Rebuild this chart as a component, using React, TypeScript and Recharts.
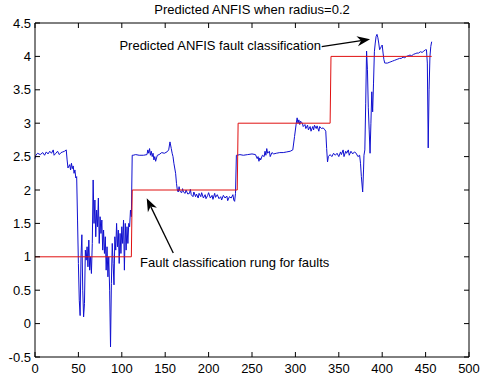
import React from 'react';
import { LineChart, Line, XAxis, YAxis, ReferenceLine, ReferenceDot } from 'recharts';

// ANFIS output (sample index -> predicted class)
const predX = [
  0, 1, 3, 6, 9, 11, 13, 15, 17, 19, 21, 22, 24, 26, 28, 30, 32, 34, 36, 37, 38, 40, 41, 42, 43, 44, 45, 46, 47, 48,
  49, 50, 51, 52, 53, 54, 55, 56, 57, 58, 59, 60, 61, 62, 63, 64, 65, 66, 67, 68, 69, 70, 71, 72, 73, 74, 75, 76, 77, 78,
  79, 80, 81, 82, 83, 84, 85, 86, 87, 88, 89, 90, 91, 92, 93, 94, 95, 96, 97, 98, 99, 100, 101, 102, 103, 104, 105, 106, 107, 108,
  109, 110, 111, 112, 113, 116, 120, 125, 129, 130, 131, 132, 133, 134, 135, 136, 137, 138, 139, 140, 141, 143, 146, 149, 152, 154, 155.5, 157, 158, 159,
  160, 162, 163, 164, 165, 166, 167, 169, 170, 171, 173, 174, 176, 178, 179, 180, 182, 183, 185, 186, 188, 189, 191, 192, 194, 196, 197, 199, 200, 202,
  204, 205, 207, 208, 210, 212, 214, 215, 217, 219, 221, 222, 224, 226, 228, 229, 230, 231, 232, 233, 236, 240, 245, 250, 254, 256, 257, 258, 259, 260,
  262, 264, 265, 266, 267, 268, 270, 271, 273, 275, 278, 282, 286, 290, 294, 297, 299, 301, 302, 303, 304, 305, 306, 308, 309, 311, 312, 314, 315, 317,
  318, 320, 321, 322, 324, 325, 327, 328, 330, 332, 334, 335, 336, 337, 338, 340, 342, 344, 346, 348, 350, 352, 353, 355, 356, 358, 359, 361, 362, 364,
  366, 368, 370, 372, 374, 375, 376, 377.5, 378.5, 379, 380, 381, 382, 383, 384, 385, 386, 387, 388, 389, 390, 391, 392, 393, 394, 395, 396, 397, 398, 399,
  400, 401, 402, 403, 404, 406, 408, 410, 412, 414, 416, 418, 420, 422, 424, 426, 428, 430, 432, 434, 436, 438, 440, 442, 444, 446, 448, 450, 451, 452,
  453, 454, 455, 456, 457,
];
const predY = [
  2.47, 2.52, 2.55, 2.53, 2.56, 2.52, 2.57, 2.54, 2.58, 2.55, 2.6, 2.52, 2.55, 2.58, 2.53, 2.56, 2.57, 2.58, 2.6, 2.45, 2.33, 2.38, 2.3, 2.4, 2.32, 2.36, 2.25, 2.3, 2.18, 2.2,
  1.55, 0.9, 0.35, 0.12, 1.0, 1.33, 0.5, 0.1, 0.3, 1.1, 0.95, 1.15, 0.85, 1.25, 0.8, 1.0, 0.75, 1.2, 2.15, 1.5, 1.85, 1.3, 1.7, 1.45, 1.88, 1.2, 1.6, 1.35, 1.55, 1.1,
  1.4, 1.05, 1.3, 0.8, 1.15, 0.7, 1.0, 0.5, -0.35, 0.6, 1.2, 0.9, 0.58, 1.3, 1.1, 1.5, 1.15, 1.4, 0.9, 1.35, 1.05, 1.45, 1.2, 1.55, 0.8, 1.5, 1.1, 1.45, 1.2, 1.5,
  1.45, 1.7, 1.6, 2.52, 2.52, 2.53, 2.52, 2.52, 2.53, 2.6, 2.55, 2.62, 2.52, 2.58, 2.5, 2.55, 2.45, 2.5, 2.43, 2.48, 2.52, 2.53, 2.56, 2.55, 2.57, 2.6, 2.72, 2.62, 2.55, 2.5,
  2.4, 2.25, 2.1, 2.0, 1.97, 2.05, 1.98, 1.96, 2.02, 1.97, 1.95, 2.0, 1.94, 1.95, 2.01, 1.93, 1.9, 1.97, 1.9, 1.94, 1.88, 1.95, 1.9, 1.96, 1.88, 1.93, 1.87, 1.92, 1.96, 1.88,
  1.92, 1.86, 1.95, 1.89, 1.93, 1.87, 1.9, 1.85, 1.92, 1.88, 1.91, 1.84, 1.9, 1.88, 1.93, 1.85, 1.83, 1.95, 2.52, 2.52, 2.53, 2.52, 2.53, 2.54, 2.53, 2.47, 2.5, 2.43, 2.48, 2.45,
  2.52, 2.5, 2.58, 2.52, 2.62, 2.55, 2.58, 2.5, 2.56, 2.54, 2.55, 2.56, 2.56, 2.57, 2.58, 2.6, 2.8, 3.0, 3.08, 3.0, 3.05, 2.98, 3.03, 3.0, 2.95, 2.98, 2.92, 2.97, 2.9, 2.95,
  2.88, 2.95, 2.9, 2.97, 2.92, 2.96, 2.88, 2.95, 2.92, 2.93, 2.9, 2.88, 2.62, 2.42, 2.5, 2.53, 2.5, 2.55, 2.52, 2.55, 2.5, 2.57, 2.53, 2.6, 2.5, 2.58, 2.55, 2.6, 2.52, 2.58,
  2.54, 2.57, 2.55, 2.5, 2.52, 2.4, 2.2, 1.97, 2.3, 2.52, 2.6, 3.3, 4.08, 3.8, 3.23, 2.9, 2.55, 3.0, 3.47, 3.17, 3.6, 4.07, 4.2, 4.3, 4.33, 4.28, 4.2, 4.1, 4.12, 4.15,
  4.17, 4.05, 3.95, 3.9, 3.9, 3.9, 3.91, 3.92, 3.93, 3.94, 3.95, 3.96, 3.97, 3.97, 3.99, 3.98, 4.0, 4.01, 4.02, 4.01, 4.03, 4.04, 4.05, 4.05, 4.07, 4.06, 4.08, 4.1, 4.1, 3.9,
  2.63, 3.5, 4.0, 4.15, 4.22,
];

// target class per sample (fault classification rung)
const rungX = [0, 111, 112, 233, 234, 340, 341, 457];
const rungY = [1, 1, 2, 2, 3, 3, 4, 4];

const xTicks = [0, 50, 100, 150, 200, 250, 300, 350, 400, 450, 500];
const yTicks = [-0.5, 0, 0.5, 1, 1.5, 2, 2.5, 3, 3.5, 4, 4.5];

const predData = predX.map((x, i) => ({ x, y: predY[i] }));
const rungData = rungX.map((x, i) => ({ x, y: rungY[i] }));

const FONT = '"Liberation Sans", Arial, sans-serif';
const blank = () => '';

const Arrow = (props: any) => {
  const { x1, y1, x2, y2 } = props;
  const ang = Math.atan2(y2 - y1, x2 - x1);
  const len = 13;
  const half = 5;
  const bx = x2 - len * Math.cos(ang);
  const by = y2 - len * Math.sin(ang);
  const nx = x2 - (len - 4) * Math.cos(ang);
  const ny = y2 - (len - 4) * Math.sin(ang);
  const px = -Math.sin(ang) * half;
  const py = Math.cos(ang) * half;
  return (
    <g>
      <line x1={x1} y1={y1} x2={nx} y2={ny} stroke="#000" strokeWidth={1.3} />
      <polygon
        points={`${x2},${y2} ${bx + px},${by + py} ${nx},${ny} ${bx - px},${by - py}`}
        fill="#000"
      />
    </g>
  );
};

const Note = (text: string, anchor: 'start' | 'end') => (props: any) => (
  <text
    x={props.cx}
    y={props.cy}
    textAnchor={anchor}
    dominantBaseline="central"
    fontFamily={FONT}
    fontSize={13}
    fill="#000"
  >
    {text}
  </text>
);

export default function App() {
  return (
    <div style={{ position: 'absolute', left: 0, top: 0, width: 480, height: 385, background: '#fff' }}>
      <div
        style={{
          position: 'absolute',
          left: 35,
          width: 434,
          top: 2,
          textAlign: 'center',
          fontFamily: FONT,
          fontSize: 13,
          lineHeight: '16px',
          color: '#000',
        }}
      >
        Predicted ANFIS when radius=0.2
      </div>
      <LineChart width={480} height={385} margin={{ top: 22, right: 10, bottom: 0, left: 0 }}>
        <XAxis
          dataKey="x"
          type="number"
          domain={[0, 500]}
          ticks={xTicks}
          interval={0}
          height={28}
          tickSize={-5}
          tickMargin={12}
          axisLine={{ stroke: '#000' }}
          tickLine={{ stroke: '#000' }}
          tick={{ fill: '#000', fontSize: 13, fontFamily: FONT }}
        />
        <XAxis
          xAxisId="top"
          orientation="top"
          dataKey="x"
          type="number"
          domain={[0, 500]}
          ticks={xTicks}
          interval={0}
          height={1}
          tickSize={-5}
          tickFormatter={blank}
          axisLine={{ stroke: '#000' }}
          tickLine={{ stroke: '#000' }}
        />
        <YAxis
          type="number"
          domain={[-0.5, 4.5]}
          ticks={yTicks}
          interval={0}
          width={35}
          tickSize={-5}
          tickMargin={9}
          axisLine={{ stroke: '#000' }}
          tickLine={{ stroke: '#000' }}
          tick={{ fill: '#000', fontSize: 13, fontFamily: FONT }}
        />
        <YAxis
          yAxisId="right"
          orientation="right"
          type="number"
          domain={[-0.5, 4.5]}
          ticks={yTicks}
          interval={0}
          width={1}
          tickSize={-5}
          tickFormatter={blank}
          axisLine={{ stroke: '#000' }}
          tickLine={{ stroke: '#000' }}
        />
        <Line
          data={predData}
          dataKey="y"
          type="linear"
          stroke="#1010d0"
          strokeWidth={1}
          dot={false}
          isAnimationActive={false}
        />
        <Line
          data={rungData}
          xAxisId="top"
          yAxisId="right"
          dataKey="y"
          type="linear"
          stroke="#e01010"
          strokeWidth={1}
          dot={false}
          isAnimationActive={false}
        />
        <ReferenceLine segment={[{ x: 330.3, y: 4.145 }, { x: 386, y: 4.256 }]} shape={Arrow} />
        <ReferenceLine segment={[{ x: 159.3, y: 1.057 }, { x: 128.7, y: 1.876 }]} shape={Arrow} />
        <ReferenceDot x={329.5} y={4.17} r={0} shape={Note('Predicted ANFIS fault classification', 'end')} />
        <ReferenceDot x={121} y={0.92} r={0} shape={Note('Fault classification rung for faults', 'start')} />
      </LineChart>
    </div>
  );
}
